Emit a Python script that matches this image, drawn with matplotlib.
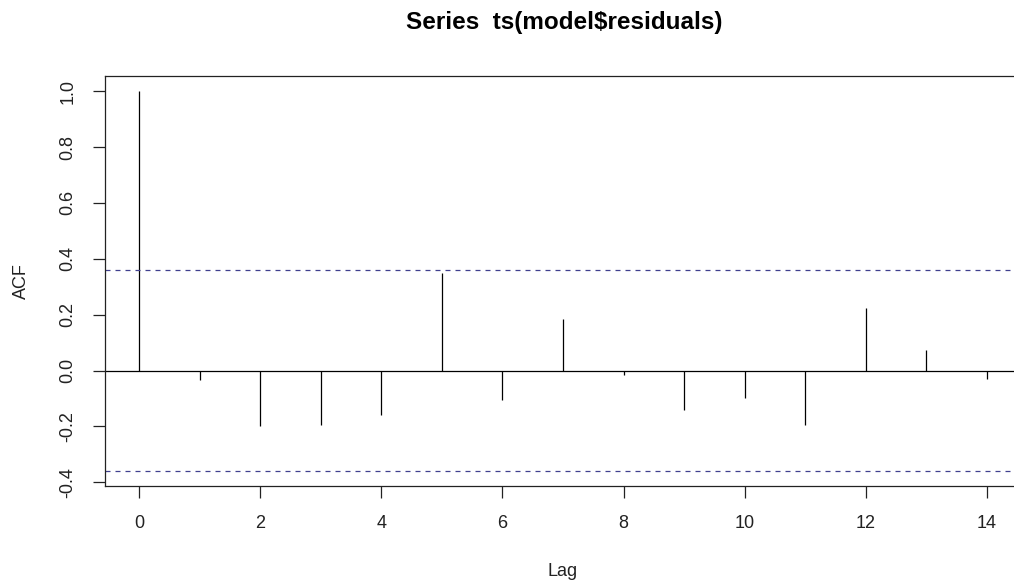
import numpy as np
import matplotlib
matplotlib.use("Agg")
import matplotlib.pyplot as plt

plt.rcParams['font.family'] = ['Liberation Sans', 'DejaVu Sans']

# ACF of model residuals
lags = [0, 1, 2, 3, 4, 5, 6, 7, 8, 9, 10, 11, 12, 13, 14]
acf = [1.0, -0.033, -0.200, -0.196, -0.159, 0.349, -0.104, 0.183,
       -0.016, -0.141, -0.099, -0.196, 0.225, 0.072, -0.030]
ci = 0.359
xticks = [0, 2, 4, 6, 8, 10, 12, 14]
yticks = [-0.4, -0.2, 0.0, 0.2, 0.4, 0.6, 0.8, 1.0]

W, H = 1014, 586
fig = plt.figure(figsize=(W / 100, H / 100), dpi=100)
ax = fig.add_axes([105 / W, (H - 486) / H, (1021 - 105) / W, (486 - 76) / H])

ax.vlines(lags, 0, acf, color='black', lw=0.9)
ax.axhline(0, color='black', lw=0.9)
ax.axhline(ci, color='#40408f', lw=0.9, ls=(0, (4, 4)))
ax.axhline(-ci, color='#40408f', lw=0.9, ls=(0, (4, 4)))

# R style axis limits: data range plus 4%
lo = min(min(acf), -ci)
hi = max(max(acf), ci)
ax.set_ylim(lo - 0.04 * (hi - lo), hi + 0.04 * (hi - lo))
ax.set_xlim(min(lags) - 0.04 * (max(lags) - min(lags)),
            max(lags) + 0.04 * (max(lags) - min(lags)))

ax.set_xticks(xticks)
ax.set_xticklabels([str(t) for t in xticks])
ax.set_yticks(yticks)
ax.set_yticklabels([f"{t:.1f}" for t in yticks], rotation=90, va='center')
ax.tick_params(axis='both', length=8.5, width=0.9, labelsize=13,
               color='#222222', labelcolor='#222222')
ax.tick_params(axis='x', pad=12.5)
ax.tick_params(axis='y', pad=12)

for s in ax.spines.values():
    s.set_linewidth(0.9)
    s.set_color('#222222')
ax.spines['right'].set_visible(False)

fig.text(564 / W, 1 - 22 / H, "Series  ts(model$residuals)", ha='center', va='center',
         fontsize=17.5, fontweight='bold')
fig.text(563 / W, 1 - 571 / H, "Lag", ha='center', va='center', fontsize=13,
         color='#222222')
fig.text(21 / W, 1 - 281 / H, "ACF", ha='center', va='center', rotation=90,
         fontsize=13, color='#222222')

fig.savefig("out.png", dpi=100)
